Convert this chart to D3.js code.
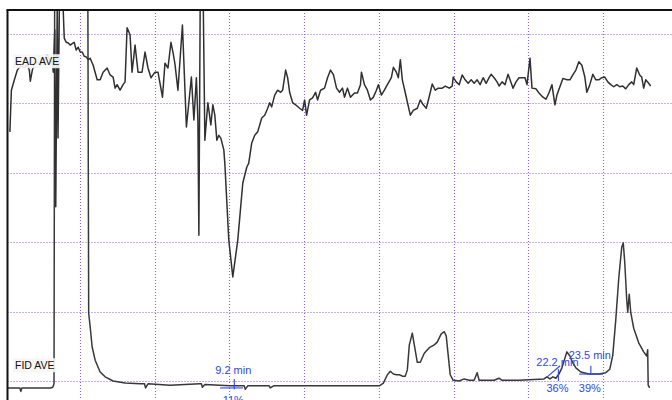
<!DOCTYPE html>
<html>
<head>
<meta charset="utf-8">
<script src="https://cdn.jsdelivr.net/npm/d3@7/dist/d3.min.js"></script>
<style>
  html, body { margin: 0; padding: 0; background: #fff; }
  svg { display: block; }
</style>
</head>
<body>
<svg id="chart" width="672" height="400"></svg>
<script>
// Averaged GC-EAD run: antennal response (EAD) and flame ionisation detector (FID).
// Time in minutes, signal in display divisions.

const eadTime = [
  0.20, 0.26, 0.38, 0.50, 0.62, 0.78, 0.90, 0.98, 1.02, 1.10, 1.22, 1.42, 1.58, 1.70, 1.82, 1.90, 1.94,
  2.00, 2.04, 2.10, 2.13, 2.20, 2.28, 2.38, 2.46, 2.54, 2.62, 2.70, 2.78, 2.86, 2.94, 3.02, 3.10, 3.18,
  3.26, 3.34, 3.42, 3.54, 3.70, 3.82, 3.94, 4.10, 4.22, 4.34, 4.42, 4.50, 4.62, 4.74, 4.82, 4.90, 5.02,
  5.10, 5.22, 5.34, 5.50, 5.62, 5.74, 5.86, 6.02, 6.14, 6.32, 6.42, 6.54, 6.66, 6.74, 6.82, 6.94, 7.12,
  7.28, 7.48, 7.58, 7.68, 7.74, 7.78, 7.84, 7.94, 8.02, 8.14, 8.26, 8.34, 8.42, 8.50, 8.58, 8.66, 8.78,
  8.82, 8.98, 9.14, 9.34, 9.54, 9.70, 9.78, 9.90, 10.02, 10.14, 10.30, 10.42, 10.54, 10.62, 10.70, 10.82,
  10.94, 11.06, 11.14, 11.26, 11.34, 11.42, 11.54, 11.66, 11.82, 11.94, 12.02, 12.10, 12.22, 12.34, 12.46,
  12.54, 12.66, 12.82, 12.94, 13.06, 13.18, 13.30, 13.42, 13.54, 13.62, 13.74, 13.86, 14.02, 14.14, 14.26,
  14.30, 14.42, 14.54, 14.66, 14.78, 14.90, 14.98, 15.10, 15.22, 15.34, 15.50, 15.58, 15.70, 15.78, 15.86,
  15.94, 16.06, 16.14, 16.26, 16.38, 16.54, 16.66, 16.78, 16.90, 17.02, 17.14, 17.26, 17.38, 17.54, 17.66,
  17.82, 17.94, 17.98, 18.10, 18.22, 18.34, 18.46, 18.58, 18.70, 18.82, 18.94, 19.06, 19.18, 19.30, 19.42,
  19.50, 19.62, 19.74, 19.82, 19.94, 20.06, 20.18, 20.26, 20.38, 20.50, 20.62, 20.74, 20.86, 20.94, 21.06,
  21.14, 21.30, 21.42, 21.58, 21.70, 21.82, 21.94, 22.06, 22.14, 22.26, 22.38, 22.54, 22.66, 22.78, 22.90,
  23.02, 23.14, 23.26, 23.34, 23.46, 23.58, 23.70, 23.82, 23.94, 24.06, 24.18, 24.30, 24.42, 24.54, 24.66,
  24.78, 24.90, 25.02, 25.14, 25.22, 25.34, 25.46, 25.54, 25.62, 25.70, 25.82, 25.90
];
const eadSignal = [
  3.59, 4.19, 4.34, 4.48, 4.54, 4.52, 4.55, 4.48, 4.32, 4.48, 4.60, 4.55, 4.63, 4.70, 4.60, 4.60, 4.45,
  5.06, 2.51, 5.49, 3.50, 5.92, 5.92, 4.94, 4.88, 4.87, 4.84, 4.86, 4.88, 4.77, 4.81, 4.74, 4.74, 4.68,
  4.67, 4.63, 4.65, 4.55, 4.34, 4.34, 4.45, 4.51, 4.41, 4.38, 4.22, 4.27, 4.19, 4.27, 4.31, 5.09, 4.99,
  4.45, 4.84, 4.45, 4.45, 4.74, 4.51, 4.37, 4.45, 4.45, 4.09, 4.58, 4.51, 4.88, 4.74, 4.57, 4.19, 5.13,
  3.66, 4.38, 3.76, 4.37, 3.76, 2.10, 5.92, 5.92, 3.47, 4.01, 3.69, 3.98, 3.83, 3.47, 3.54, 3.50, 3.33,
  3.14, 2.03, 1.50, 2.03, 2.85, 3.08, 3.14, 3.43, 3.54, 3.59, 3.79, 3.83, 3.93, 4.01, 3.95, 4.12,
  4.19, 4.16, 4.19, 4.48, 4.37, 4.16, 4.01, 3.98, 3.93, 3.90, 4.05, 3.83, 4.05, 4.08, 4.16,
  4.05, 4.19, 4.22, 4.37, 4.48, 4.41, 4.22, 4.16, 4.22, 4.09, 4.22, 4.09, 4.15, 4.15, 4.27,
  4.45, 4.27, 4.19, 4.05, 4.09, 4.19, 4.27, 4.12, 4.19, 4.27, 4.37, 4.52, 4.45, 4.37, 4.63,
  4.34, 4.15, 4.02, 3.83, 3.90, 3.93, 4.05, 3.98, 3.93, 4.10, 4.28, 4.19, 4.22, 4.22, 4.25,
  4.22, 4.25, 4.38, 4.31, 4.27, 4.41, 4.34, 4.29, 4.34, 4.29, 4.34, 4.27, 4.37, 4.29, 4.37,
  4.42, 4.37, 4.31, 4.25, 4.31, 4.27, 4.42, 4.34, 4.22, 4.31, 4.37, 4.37, 4.37, 4.27, 4.65,
  4.22, 4.21, 4.15, 4.09, 4.06, 4.15, 4.27, 3.98, 4.12, 4.24, 4.36, 4.34, 4.34, 4.41, 4.48,
  4.60, 4.55, 4.38, 4.16, 4.27, 4.42, 4.34, 4.34, 4.37, 4.38, 4.31, 4.27, 4.24, 4.27, 4.24,
  4.25, 4.21, 4.27, 4.31, 4.27, 4.51, 4.41, 4.38, 4.22, 4.34, 4.29, 4.25
];

const fidTime = [
  0.12, 0.60, 0.64, 0.68, 1.82, 1.92, 1.97, 2.00, 3.32, 3.36, 3.42, 3.50, 3.62, 3.82, 4.02, 4.34, 4.82,
  5.42, 5.60, 5.64, 5.74, 6.62, 7.82, 7.88, 7.92, 8.02, 9.02, 9.60, 9.64, 9.74, 10.54, 10.60, 10.64, 10.78,
  11.82, 13.42, 15.02, 15.18, 15.34, 15.46, 15.58, 15.70, 15.82, 15.94, 16.06, 16.14, 16.22, 16.34, 16.42,
  16.54, 16.66, 16.82, 17.02, 17.22, 17.34, 17.50, 17.62, 17.70, 17.78, 17.86, 17.98, 18.22, 18.42, 18.62,
  18.82, 18.94, 19.02, 19.62, 19.82, 19.94, 20.62, 21.62, 21.74, 21.86, 21.98, 22.10, 22.22, 22.34, 22.46,
  22.54, 22.66, 22.78, 22.90, 23.10, 23.42, 23.82, 24.10, 24.26, 24.38, 24.50, 24.62, 24.74, 24.80, 24.86,
  24.94, 24.98, 25.04, 25.10, 25.22, 25.42, 25.62, 25.74, 25.78, 25.80, 25.86
];
const fidSignal = [
  -0.10, -0.10, -0.15, -0.10, -0.10, -0.09, -0.04, 6.50, 6.50, 0.98, 0.78, 0.49, 0.30, 0.13, 0.06, 0.00, -0.03,
  -0.04, -0.04, -0.10, -0.04, -0.06, -0.04, -0.04, -0.09, -0.05, -0.07, -0.07, -0.12, -0.07, -0.07, -0.07, -0.10, -0.07,
  -0.07, -0.07, -0.07, -0.03, 0.09, 0.14, 0.10, 0.09, 0.09, 0.07, 0.07, 0.16, 0.52, 0.69, 0.52,
  0.27, 0.27, 0.40, 0.48, 0.52, 0.56, 0.68, 0.71, 0.65, 0.37, 0.09, 0.01, 0.00, 0.03, 0.01,
  0.01, 0.12, 0.01, 0.01, 0.04, 0.01, 0.01, 0.03, 0.06, 0.03, 0.06, 0.04, 0.10, 0.19, 0.33,
  0.42, 0.36, 0.26, 0.19, 0.13, 0.10, 0.10, 0.12, 0.17, 0.37, 0.88, 1.48, 1.93, 1.99, 1.71,
  1.17, 0.99, 1.25, 0.99, 0.76, 0.55, 0.42, 0.36, 0.45, -0.06, -0.10
];

// Integrated peaks: retention time, relative area, baseline segment and tick extent
const peakTimes = [9.2, 22.2, 23.5];
const peakAreas = ["11%", "36%", "39%"];
const baselineStart = [[8.63, -0.10], [21.75, 0.06], [23.03, 0.10]];
const baselineEnd = [[9.55, -0.10], [22.27, 0.22], [23.99, 0.10]];
const tickTop = [0.03, 0.17, 0.22];
const tickBottom = [-0.12, 0.00, 0.10];

const traceNames = ["EAD AVE", "FID AVE"];
const gridMinutes = [3, 6, 9, 12, 15, 18, 21, 24];
const gridLevels = [0, 1, 2, 3, 4, 5];

const W = 672, H = 400;
const plotLeft = 7.5, plotTop = 10;

const svg = d3.select("#chart");
const x = d3.scaleLinear().domain([3, 24]).range([79.7, 603.3]);
const y = d3.scaleLinear().domain([0, 5]).range([381, 34]);

svg.append("defs").append("clipPath").attr("id", "plotClip")
  .append("rect").attr("x", plotLeft).attr("y", plotTop)
  .attr("width", W + 20 - plotLeft).attr("height", H + 20 - plotTop);

// dotted division grid
const grid = svg.append("g").attr("stroke", "#8f5ff7").attr("stroke-width", 1.1)
  .attr("stroke-dasharray", "1,2");
grid.selectAll("line.v").data(gridMinutes).join("line")
  .attr("class", "v")
  .attr("x1", d => Math.round(x(d)) + 0.5).attr("x2", d => Math.round(x(d)) + 0.5)
  .attr("y1", plotTop).attr("y2", H);
grid.selectAll("line.h").data(gridLevels).join("line")
  .attr("class", "h")
  .attr("y1", d => Math.round(y(d)) + 0.5).attr("y2", d => Math.round(y(d)) + 0.5)
  .attr("x1", plotLeft).attr("x2", W);

const plot = svg.append("g").attr("clip-path", "url(#plotClip)");
const line = d3.line().x(d => x(d[0])).y(d => y(d[1]));

const eadData = eadTime.map((t, i) => [t, eadSignal[i]]);
const fidData = fidTime.map((t, i) => [t, fidSignal[i]]);

plot.append("path").datum(fidData)
  .attr("fill", "none").attr("stroke", "#383838").attr("stroke-width", 1.5)
  .attr("stroke-linejoin", "round").attr("d", line);
plot.append("path").datum(eadData)
  .attr("fill", "none").attr("stroke", "#303030").attr("stroke-width", 1.5)
  .attr("stroke-linejoin", "round").attr("d", line);

// trace names on a pale box, placed beside each trace's resting level
const nameLevel = [4.55, 0.17];
traceNames.forEach((name, i) => {
  const g = svg.append("g");
  const t = g.append("text")
    .attr("x", 15).attr("y", y(nameLevel[i]))
    .attr("font-family", "Liberation Sans, Arial, sans-serif")
    .attr("font-size", 10.5).attr("fill", "#111").text(name);
  const b = t.node().getBBox();
  g.insert("rect", "text")
    .attr("x", b.x - 2).attr("y", b.y - 1)
    .attr("width", b.width + 4).attr("height", b.height + 2)
    .attr("fill", "#f6f6f6").attr("opacity", 0.92);
});

// peak integration marks
const blue = "#2f45ea";
const ann = svg.append("g").attr("stroke", blue).attr("stroke-width", 1.1);
peakTimes.forEach((t, i) => {
  ann.append("line")
    .attr("x1", x(baselineStart[i][0])).attr("y1", y(baselineStart[i][1]))
    .attr("x2", x(baselineEnd[i][0])).attr("y2", y(baselineEnd[i][1]));
  ann.append("line")
    .attr("x1", x(t)).attr("x2", x(t))
    .attr("y1", y(tickTop[i])).attr("y2", y(tickBottom[i]));
});

const timeLabelDy = [-5, -3, -7];
const areaLabelDy = [15, 11, 18];
const labels = svg.append("g")
  .attr("font-family", "Liberation Sans, Arial, sans-serif")
  .attr("font-size", 11).attr("fill", blue).attr("text-anchor", "middle");
peakTimes.forEach((t, i) => {
  labels.append("text")
    .attr("x", x(t) - 1).attr("y", y(tickTop[i]) + timeLabelDy[i])
    .text(t.toFixed(1) + " min");
  labels.append("text")
    .attr("x", x(t) - 1).attr("y", y(tickBottom[i]) + areaLabelDy[i])
    .text(peakAreas[i]);
});

// frame
svg.append("line").attr("x1", plotLeft - 1).attr("x2", W)
  .attr("y1", plotTop).attr("y2", plotTop)
  .attr("stroke", "#111").attr("stroke-width", 2);
svg.append("line").attr("x1", plotLeft).attr("x2", plotLeft)
  .attr("y1", plotTop).attr("y2", H)
  .attr("stroke", "#111").attr("stroke-width", 2);
</script>
</body>
</html>
